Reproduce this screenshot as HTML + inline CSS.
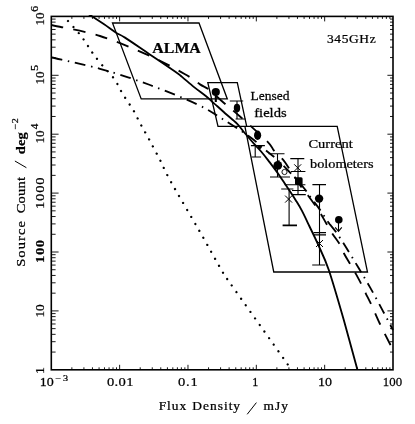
<!DOCTYPE html>
<html><head><meta charset="utf-8"><title>plot</title>
<style>html,body{margin:0;padding:0;background:#fff;}svg{display:block;}text{font-family:"Liberation Serif",serif;fill:#000;stroke:#000;stroke-width:0.25px;}</style>
</head><body>
<svg width="415" height="424" viewBox="0 0 415 424">
<rect x="0" y="0" width="415" height="424" fill="#fff"/>
<rect x="51.3" y="16.4" width="341.7" height="353.40000000000003" fill="none" stroke="#000" stroke-width="1.6"/>
<path d="M71.87 369.8v-2.5M71.87 16.4v2.5M83.91 369.8v-2.5M83.91 16.4v2.5M92.44 369.8v-2.5M92.44 16.4v2.5M99.07 369.8v-2.5M99.07 16.4v2.5M104.48 369.8v-2.5M104.48 16.4v2.5M109.05 369.8v-2.5M109.05 16.4v2.5M113.02 369.8v-2.5M113.02 16.4v2.5M116.51 369.8v-2.5M116.51 16.4v2.5M119.64 369.8v-5.0M119.64 16.4v5.0M140.21 369.8v-2.5M140.21 16.4v2.5M152.25 369.8v-2.5M152.25 16.4v2.5M160.78 369.8v-2.5M160.78 16.4v2.5M167.41 369.8v-2.5M167.41 16.4v2.5M172.82 369.8v-2.5M172.82 16.4v2.5M177.39 369.8v-2.5M177.39 16.4v2.5M181.36 369.8v-2.5M181.36 16.4v2.5M184.85 369.8v-2.5M184.85 16.4v2.5M187.98 369.8v-5.0M187.98 16.4v5.0M208.55 369.8v-2.5M208.55 16.4v2.5M220.59 369.8v-2.5M220.59 16.4v2.5M229.12 369.8v-2.5M229.12 16.4v2.5M235.75 369.8v-2.5M235.75 16.4v2.5M241.16 369.8v-2.5M241.16 16.4v2.5M245.73 369.8v-2.5M245.73 16.4v2.5M249.70 369.8v-2.5M249.70 16.4v2.5M253.19 369.8v-2.5M253.19 16.4v2.5M256.32 369.8v-5.0M256.32 16.4v5.0M276.89 369.8v-2.5M276.89 16.4v2.5M288.93 369.8v-2.5M288.93 16.4v2.5M297.46 369.8v-2.5M297.46 16.4v2.5M304.09 369.8v-2.5M304.09 16.4v2.5M309.50 369.8v-2.5M309.50 16.4v2.5M314.07 369.8v-2.5M314.07 16.4v2.5M318.04 369.8v-2.5M318.04 16.4v2.5M321.53 369.8v-2.5M321.53 16.4v2.5M324.66 369.8v-5.0M324.66 16.4v5.0M345.23 369.8v-2.5M345.23 16.4v2.5M357.27 369.8v-2.5M357.27 16.4v2.5M365.80 369.8v-2.5M365.80 16.4v2.5M372.43 369.8v-2.5M372.43 16.4v2.5M377.84 369.8v-2.5M377.84 16.4v2.5M382.41 369.8v-2.5M382.41 16.4v2.5M386.38 369.8v-2.5M386.38 16.4v2.5M389.87 369.8v-2.5M389.87 16.4v2.5M51.3 352.07h4.3M393.0 352.07h-3.0M51.3 341.70h4.3M393.0 341.70h-3.0M51.3 334.34h4.3M393.0 334.34h-3.0M51.3 328.63h4.3M393.0 328.63h-3.0M51.3 323.97h4.3M393.0 323.97h-3.0M51.3 320.02h4.3M393.0 320.02h-3.0M51.3 316.61h4.3M393.0 316.61h-3.0M51.3 313.60h4.3M393.0 313.60h-3.0M51.3 310.90h7.3M393.0 310.90h-5.6M51.3 293.17h4.3M393.0 293.17h-3.0M51.3 282.80h4.3M393.0 282.80h-3.0M51.3 275.44h4.3M393.0 275.44h-3.0M51.3 269.73h4.3M393.0 269.73h-3.0M51.3 265.07h4.3M393.0 265.07h-3.0M51.3 261.12h4.3M393.0 261.12h-3.0M51.3 257.71h4.3M393.0 257.71h-3.0M51.3 254.70h4.3M393.0 254.70h-3.0M51.3 252.00h7.3M393.0 252.00h-5.6M51.3 234.27h4.3M393.0 234.27h-3.0M51.3 223.90h4.3M393.0 223.90h-3.0M51.3 216.54h4.3M393.0 216.54h-3.0M51.3 210.83h4.3M393.0 210.83h-3.0M51.3 206.17h4.3M393.0 206.17h-3.0M51.3 202.22h4.3M393.0 202.22h-3.0M51.3 198.81h4.3M393.0 198.81h-3.0M51.3 195.80h4.3M393.0 195.80h-3.0M51.3 193.10h7.3M393.0 193.10h-5.6M51.3 175.37h4.3M393.0 175.37h-3.0M51.3 165.00h4.3M393.0 165.00h-3.0M51.3 157.64h4.3M393.0 157.64h-3.0M51.3 151.93h4.3M393.0 151.93h-3.0M51.3 147.27h4.3M393.0 147.27h-3.0M51.3 143.32h4.3M393.0 143.32h-3.0M51.3 139.91h4.3M393.0 139.91h-3.0M51.3 136.90h4.3M393.0 136.90h-3.0M51.3 134.20h7.3M393.0 134.20h-5.6M51.3 116.47h4.3M393.0 116.47h-3.0M51.3 106.10h4.3M393.0 106.10h-3.0M51.3 98.74h4.3M393.0 98.74h-3.0M51.3 93.03h4.3M393.0 93.03h-3.0M51.3 88.37h4.3M393.0 88.37h-3.0M51.3 84.42h4.3M393.0 84.42h-3.0M51.3 81.01h4.3M393.0 81.01h-3.0M51.3 78.00h4.3M393.0 78.00h-3.0M51.3 75.30h7.3M393.0 75.30h-5.6M51.3 57.57h4.3M393.0 57.57h-3.0M51.3 47.20h4.3M393.0 47.20h-3.0M51.3 39.84h4.3M393.0 39.84h-3.0M51.3 34.13h4.3M393.0 34.13h-3.0M51.3 29.47h4.3M393.0 29.47h-3.0M51.3 25.52h4.3M393.0 25.52h-3.0M51.3 22.11h4.3M393.0 22.11h-3.0M51.3 19.10h4.3M393.0 19.10h-3.0" stroke="#000" stroke-width="0.9" fill="none"/>
<g stroke="#000" stroke-width="1.3" fill="none">
<path d="M112.5 23 L199 23 L227.3 98.9 L141.2 98.9 Z"/>
<path d="M246.7 126.3 L237.3 82.6 L207.8 82.6 L218 126.3 L337.2 126.3 L367.5 272 L273.75 272 L244.9 126.3"/>
</g>
<clipPath id="c"><rect x="51.3" y="14.899999999999999" width="342.7" height="354.90000000000003"/></clipPath>
<g stroke="#000" fill="none" clip-path="url(#c)">
<path d="M88.5 14.0 C88.8 14.2 87.6 13.5 90.2 15.2 C92.8 16.9 99.8 21.4 104.1 24.3 C108.4 27.2 112.6 30.5 116.1 32.7 C119.6 34.9 119.5 34.1 125.0 37.6 C130.5 41.1 140.8 48.3 149.1 53.9 C157.4 59.5 169.5 67.6 175.0 71.4 C180.5 75.2 178.8 74.3 182.0 76.9 C185.2 79.5 190.1 83.9 194.1 87.1 C198.1 90.3 203.3 94.0 206.1 96.3 C208.9 98.5 207.8 97.8 211.0 100.6 C214.2 103.4 220.7 109.4 225.0 113.2 C229.3 117.0 233.8 120.4 237.0 123.6 C240.2 126.8 241.5 129.2 244.3 132.5 C247.1 135.8 251.1 140.5 253.9 143.7 C256.7 146.9 258.7 148.7 261.1 151.5 C263.5 154.3 265.6 156.9 268.4 160.6 C271.2 164.3 275.4 169.8 278.0 173.5 C280.6 177.2 282.1 179.5 284.1 182.5 C286.1 185.5 288.1 188.6 290.1 191.6 C292.1 194.6 294.0 197.5 296.0 200.7 C298.0 203.9 299.8 206.7 302.0 210.9 C304.2 215.1 306.7 220.5 309.3 226.0 C311.9 231.5 314.5 236.4 317.7 243.7 C320.9 251.0 324.4 257.3 328.8 270.0 C333.1 282.7 339.0 303.3 343.8 320.0 C348.5 336.7 355.2 361.7 357.5 370.0" stroke-width="1.85"/>
<path d="M51.0 25.0 C59.2 26.8 83.5 30.8 100.0 36.0 C116.5 41.2 135.8 49.6 150.0 56.0 C164.2 62.4 176.7 69.5 185.0 74.2 C193.3 78.9 196.0 81.8 200.0 84.4 C204.0 87.0 205.0 86.5 209.0 89.6 C213.0 92.7 218.8 98.5 224.0 103.0 C229.2 107.5 232.8 110.1 240.0 116.5 C247.2 122.9 261.5 135.6 267.2 141.3 C272.9 147.0 271.3 147.5 274.0 150.6 C276.7 153.7 280.7 156.9 283.2 159.8 C285.7 162.8 285.8 163.5 289.0 168.3 C292.2 173.1 299.3 184.3 302.5 188.8 C305.7 193.3 305.2 191.8 308.0 195.5 C310.8 199.2 316.0 206.4 319.0 211.0 C322.0 215.6 323.8 219.3 326.0 223.0 C328.2 226.7 329.9 229.9 332.2 233.4 C334.4 236.9 337.5 240.6 339.5 243.9 C341.5 247.2 342.2 250.1 344.0 253.5 C345.8 256.9 348.4 261.1 350.3 264.4 C352.2 267.6 353.6 269.9 355.4 273.0 C357.1 276.1 359.1 279.7 360.8 283.1 C362.5 286.5 364.0 289.8 365.7 293.3 C367.4 296.8 368.7 299.1 371.1 304.2 C373.5 309.3 376.9 317.4 380.0 324.0 C383.1 330.6 387.8 339.7 390.0 344.0 C392.2 348.3 392.5 349.0 393.0 350.0" stroke-width="1.85" stroke-dasharray="12.5 10.2"/>
<clipPath id="cA"><rect x="0" y="0" width="330" height="424"/></clipPath><clipPath id="cB"><rect x="330" y="0" width="85" height="424"/></clipPath>
<path d="M51.8 57.5 C59.8 59.4 83.6 64.2 100.0 68.8 C116.4 73.3 133.8 79.0 150.0 85.0 C166.2 91.0 185.4 98.8 197.5 104.5 C209.6 110.2 213.8 113.6 222.5 119.0 C231.2 124.4 242.6 131.6 250.0 137.0 C257.4 142.4 262.9 147.9 267.2 151.5 C271.5 155.1 272.0 154.8 276.0 158.5 C280.0 162.2 286.3 168.5 291.0 173.5 C295.7 178.5 301.4 185.0 304.3 188.5 C307.2 192.0 305.8 190.9 308.3 194.3 C310.8 197.7 316.2 204.4 319.5 209.1 C322.8 213.8 325.6 218.5 328.3 222.3 C331.1 226.1 333.1 227.8 336.0 232.0 C338.9 236.2 342.3 241.4 346.0 247.3 C349.7 253.2 354.2 260.6 358.2 267.3 C362.2 274.0 366.1 280.4 370.2 287.6 C374.3 294.8 378.9 303.5 382.7 310.6 C386.5 317.7 391.3 326.8 393.0 330.0" stroke-width="1.85" stroke-dasharray="10.8 5.65 1.5 5.65" clip-path="url(#cA)"/>
<path d="M51.8 57.5 C59.8 59.4 83.6 64.2 100.0 68.8 C116.4 73.3 133.8 79.0 150.0 85.0 C166.2 91.0 185.4 98.8 197.5 104.5 C209.6 110.2 213.8 113.6 222.5 119.0 C231.2 124.4 242.6 131.6 250.0 137.0 C257.4 142.4 262.9 147.9 267.2 151.5 C271.5 155.1 272.0 154.8 276.0 158.5 C280.0 162.2 286.3 168.5 291.0 173.5 C295.7 178.5 301.4 185.0 304.3 188.5 C307.2 192.0 305.8 190.9 308.3 194.3 C310.8 197.7 316.2 204.4 319.5 209.1 C322.8 213.8 325.6 218.5 328.3 222.3 C331.1 226.1 333.1 227.8 336.0 232.0 C338.9 236.2 342.3 241.4 346.0 247.3 C349.7 253.2 354.2 260.6 358.2 267.3 C362.2 274.0 366.1 280.4 370.2 287.6 C374.3 294.8 378.9 303.5 382.7 310.6 C386.5 317.7 391.3 326.8 393.0 330.0" stroke-width="1.85" stroke-dasharray="10.8 5.65 1.5 5.65" stroke-dashoffset="-3.3" clip-path="url(#cB)"/>
<path d="M68.0 21.0 C69.5 22.7 74.3 27.8 77.0 31.0 C79.7 34.2 82.0 37.2 84.0 40.0 C86.0 42.8 87.3 45.0 89.0 47.5 C90.7 50.0 91.8 52.1 94.0 55.0 C96.2 57.9 99.0 61.5 102.0 65.0 C105.0 68.5 109.3 72.7 112.0 76.0 C114.7 79.3 116.5 82.5 118.0 85.0 C119.5 87.5 119.8 88.9 121.0 91.0 C122.2 93.1 122.9 94.2 125.0 97.5 C127.1 100.8 131.1 106.4 133.8 111.0 C136.4 115.6 138.5 120.4 141.0 125.0 C143.5 129.6 145.6 132.9 148.8 138.8 C151.9 144.6 156.3 152.8 160.0 160.0 C163.7 167.2 164.3 170.0 171.0 182.0 C177.7 194.0 191.5 217.2 200.0 232.0 C208.5 246.8 217.0 262.5 222.0 271.0 C227.0 279.5 219.3 267.8 230.0 283.0 C240.7 298.2 275.8 347.5 286.0 362.0 C296.2 376.5 290.2 368.7 291.0 370.0" stroke-width="2.3" stroke-linecap="round" stroke-dasharray="0.01 8"/>
</g>
<path d="M215.3 92V102M216.3 92V102M237 101V119M229.8 101h13.4M235.6 119h10M255.2 145.6V157M250.89999999999998 145.6h14M251.5 157h9.6M277.5 153.8V177M268.5 153.8h16M270 177h20M298 158.6V194.5M290.3 158.6h14M292 190.5H305.4M293 194.6H305.8M291 171.5H305.4M284.6 184.7H305.4M289.1 189V225M281.2 189h12.2M282.6 225H297M282.6 225.6H297M319.5 184.6V265M312.4 184.6h13.6M312.2 265h13.0M313.5 232.6H326M313.5 234.9H326M338.5 219V231M335.2 227.3L338.5 231.3L341.8 227.3" stroke="#000" stroke-width="1.1" fill="none"/>
<path d="M294.2 164.3L301.2 171.3M294.2 171.3L301.2 164.3M285.1 195.6L292.1 202.6M285.1 202.6L292.1 195.6M316.0 240.0L323.0 247.0M316.0 247.0L323.0 240.0" stroke="#000" stroke-width="1.0" fill="none"/>
<ellipse cx="237" cy="108" rx="3.2" ry="4.2" fill="#000"/><ellipse cx="257.6" cy="135.2" rx="3.6" ry="4.7" fill="#000"/>
<circle cx="215.8" cy="92.0" r="4.1" fill="#000"/>
<circle cx="277.8" cy="165.3" r="4.4" fill="#000"/>
<circle cx="319.1" cy="198.6" r="4.2" fill="#000"/>
<circle cx="338.8" cy="219.8" r="3.8" fill="#000"/>
<circle cx="259.6" cy="147.2" r="1.9" fill="#000"/>
<rect x="295" y="177.3" width="7.6" height="7.6" rx="1.5" fill="#000"/>
<circle cx="284.5" cy="172" r="2.6" fill="#fff" stroke="#000" stroke-width="0.9"/>
<g opacity="0.999">
<text x="0" y="0" font-size="15" transform="translate(152.34 52.5) scale(1.059 1)" stroke-width="0.0" font-weight="bold">ALMA</text>
<text x="0" y="0" font-size="13" transform="translate(250.49 100) scale(1.040 1)" stroke-width="0.15">Lensed</text>
<text x="0" y="0" font-size="13" transform="translate(254.22 117) scale(1.124 1)" stroke-width="0.15">fields</text>
<text x="0" y="0" font-size="13" transform="translate(308.44 148.2) scale(1.116 1)" stroke-width="0.3">Current</text>
<text x="0" y="0" font-size="13" transform="translate(310.00 167.7) scale(1.100 1)" stroke-width="0.15">bolometers</text>
<text x="0" y="0" font-size="12" transform="translate(326.97 42.5) scale(1.120 1)" stroke-width="0.45" letter-spacing="0.566">345GHz</text>
<text x="0" y="0" font-size="13" transform="translate(39.72 385.8) scale(1.078 1)" stroke-width="0.18">10</text>
<text x="0" y="0" font-size="8.5" transform="translate(55.50 381) scale(1.200 1)" stroke-width="0.2" letter-spacing="1.500">−3</text>
<text x="0" y="0" font-size="13" transform="translate(106.94 385.8) scale(1.120 1)" stroke-width="0.18" letter-spacing="0.333">0.01</text>
<text x="0" y="0" font-size="13" transform="translate(177.94 385.8) scale(1.120 1)" stroke-width="0.18" letter-spacing="0.759">0.1</text>
<text x="0" y="0" font-size="13" transform="translate(252.27 385.8) scale(0.926 1)" stroke-width="0.18">1</text>
<text x="0" y="0" font-size="13" transform="translate(318.12 385.8) scale(1.078 1)" stroke-width="0.18">10</text>
<text x="0" y="0" font-size="13" transform="translate(382.81 385.8) scale(0.989 1)" stroke-width="0.18">100</text>
<text x="0" y="0" font-size="12" transform="translate(158.72 409.9) scale(1.120 1)" stroke-width="0.25" letter-spacing="0.815">Flux</text>
<text x="0" y="0" font-size="12" transform="translate(192.32 409.9) scale(1.120 1)" stroke-width="0.25" letter-spacing="0.890">Density</text>
<text x="0" y="0" font-size="12" transform="translate(263.52 409.9) scale(1.120 1)" stroke-width="0.25" letter-spacing="0.929">mJy</text>
<text x="0" y="0" font-size="13" transform="translate(44.2 209.12) rotate(-90) scale(1.120 1)" stroke-width="0.3" letter-spacing="0.768">1000</text>
<text x="0" y="0" font-size="13" transform="translate(44.2 262.92) rotate(-90) scale(1.120 1)" stroke-width="0.1" font-weight="bold" letter-spacing="0.464">100</text>
<text x="0" y="0" font-size="13" transform="translate(44.4 317.62) rotate(-90) scale(1.021 1)" stroke-width="0.3">10</text>
<text x="0" y="0" font-size="13" transform="translate(44.2 373.95) rotate(-90) scale(1.053 1)" stroke-width="0.3">1</text>
<text x="0" y="0" font-size="13" transform="translate(24.9 266.84) rotate(-90) scale(1.120 1)" stroke-width="0.3" letter-spacing="0.982">Source</text>
<text x="0" y="0" font-size="13" transform="translate(24.9 213.36) rotate(-90) scale(1.120 1)" stroke-width="0.3" letter-spacing="0.201">Count</text>
<text x="0" y="0" font-size="13" transform="translate(24.8 154.26) rotate(-90) scale(1.120 1)" stroke-width="0.15" font-weight="bold" letter-spacing="0.098">deg</text>
<text x="0" y="0" font-size="9" transform="translate(18.2 129.68) rotate(-90) scale(1.120 1)" stroke-width="0.35" letter-spacing="0.643">−2</text>
<text x="0" y="0" font-size="13" transform="translate(43.8 25.60) rotate(-90) scale(1.004 1)" stroke-width="0.3">10</text>
<text x="0" y="0" font-size="9.5" transform="translate(38.3 11.81) rotate(-90) scale(1.244 1)" stroke-width="0.3">6</text>
<text x="0" y="0" font-size="13" transform="translate(43.8 84.50) rotate(-90) scale(1.004 1)" stroke-width="0.3">10</text>
<text x="0" y="0" font-size="9.5" transform="translate(38.3 71.05) rotate(-90) scale(1.300 1)" stroke-width="0.3">5</text>
<text x="0" y="0" font-size="13" transform="translate(43.8 143.40) rotate(-90) scale(1.004 1)" stroke-width="0.3">10</text>
<text x="0" y="0" font-size="9.5" transform="translate(38.3 129.30) rotate(-90) scale(1.179 1)" stroke-width="0.3">4</text>
</g>
<path d="M247.2 414.3L256.4 402.6M14.9 161L26.4 167.7" stroke="#000" stroke-width="1" fill="none"/>
</svg></body></html>
